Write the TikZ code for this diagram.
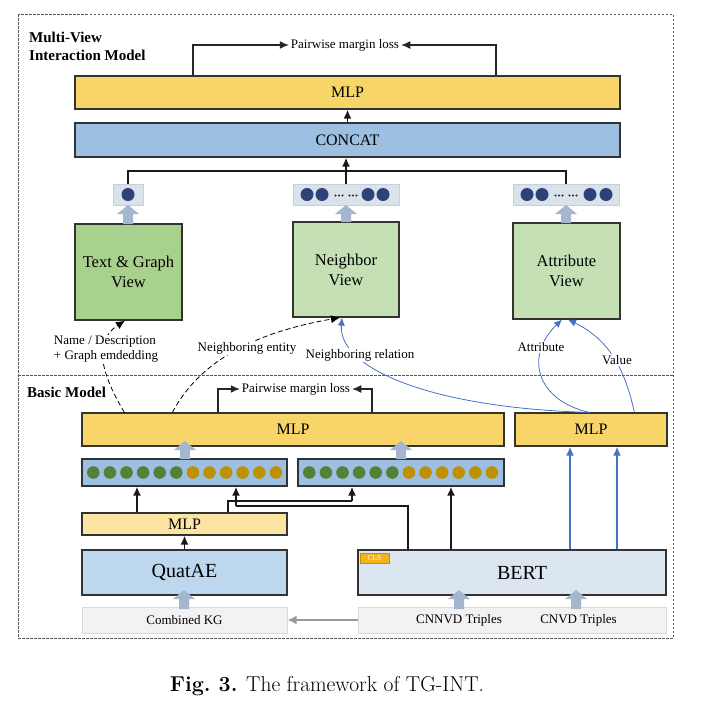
\documentclass[tikz,border=0pt]{standalone}
\usepackage{fontspec}
\newfontfamily\tnr{Liberation Serif}
\usetikzlibrary{arrows.meta,calc}
\definecolor{mlpY}{HTML}{F8D568}
\definecolor{mlpLY}{HTML}{FCE5A2}
\definecolor{ccB}{HTML}{9DC0E2}
\definecolor{qaB}{HTML}{BDD7EE}
\definecolor{brtB}{HTML}{DCE6F0}
\definecolor{vecG}{HTML}{DAE3EC}
\definecolor{grnD}{HTML}{A9D18E}
\definecolor{grnL}{HTML}{C5E0B4}
\definecolor{inG}{HTML}{F2F2F2}
\definecolor{inGb}{HTML}{D9D9D9}
\definecolor{barrowc}{HTML}{A5B6CF}
\definecolor{navy}{HTML}{2F4277}
\definecolor{dotG}{HTML}{538135}
\definecolor{dotO}{HTML}{BF9000}
\definecolor{blu}{HTML}{4472C4}
\definecolor{clsO}{HTML}{F2B31C}
\newcommand{\blockarr}[3]{%
\fill[barrowc] ({#1-5},#3) -- ({#1-5},{#2+9}) -- ({#1-11},{#2+9}) -- (#1,#2) -- ({#1+11},{#2+9}) -- ({#1+5},{#2+9}) -- ({#1+5},#3) -- cycle;}
\begin{document}
\begin{tikzpicture}[x=1pt,y=-1pt,
  box/.style={draw=black!80, line width=1.2pt, inner sep=0pt},
  lbox/.style={draw=inGb, line width=1pt, fill=inG, inner sep=0pt},
  vbox/.style={draw=vecG!80!gray, line width=0.6pt, fill=vecG, inner sep=0pt},
  fmid/.style={font=\tnr\fontsize{16}{18}\selectfont},
  fbig/.style={font=\tnr\fontsize{20}{22}\selectfont},
  flab/.style={font=\tnr\fontsize{13}{15}\selectfont},
  lab/.style={flab, fill=white, inner sep=1pt, align=center},
  arr/.style={-{Latex[length=9pt,width=8pt]}},
  thinl/.style={line width=1.1pt, black!85},
  thickl/.style={line width=1.9pt, black!90},
  dashline/.style={line width=0.8pt, dash pattern=on 5pt off 3pt},
  bluec/.style={line width=0.8pt, blu, -{Latex[length=8pt,width=7pt]}},
  bluearr/.style={line width=1.9pt, blu, -{Latex[length=9pt,width=8pt]}},
  grayarr/.style={line width=1.9pt, black!40, -{Latex[length=9pt,width=9pt]}}
]
\useasboundingbox (0,0) rectangle (727,705);
% frames
\draw[black!65, line width=0.8pt, dash pattern=on 2.5pt off 1.5pt] (18,14) rectangle (673,638);
\draw[black!65, line width=0.8pt, dash pattern=on 2.5pt off 1.5pt] (18,375) -- (673,375);
\node[anchor=west, inner sep=0pt, align=left, font=\tnr\bfseries\fontsize{15}{18}\selectfont] (hdr1) at (29,46) {Multi-View\\Interaction Model};
\node[anchor=west, inner sep=0pt, font=\tnr\bfseries\fontsize{15}{18}\selectfont] (hdr2) at (27,392) {Basic Model};

% boxes: multi-view
\node[box, fill=mlpY, minimum width=545pt, minimum height=33pt, fmid] (mlpT) at (347.5,92.5) {MLP};
\node[box, fill=ccB, minimum width=545pt, minimum height=34pt, fmid] (cc) at (347.5,140) {CONCAT};
\node[vbox, minimum width=30pt, minimum height=21pt] (v1) at (128,194.5) {};
\node[vbox, minimum width=106pt, minimum height=21pt] (v2) at (346,194.5) {};
\node[vbox, minimum width=106pt, minimum height=21pt] (v3) at (566,194.5) {};
\node[box, fill=grnD, minimum width=107pt, minimum height=96pt, align=center, font=\tnr\fontsize{16.5}{20}\selectfont] (tg) at (128.5,272) {Text \& Graph\\View};
\node[box, fill=grnL, minimum width=106pt, minimum height=95pt, align=center, font=\tnr\fontsize{16.5}{20}\selectfont] (nb) at (346,269.5) {Neighbor\\View};
\node[box, fill=grnL, minimum width=107pt, minimum height=96pt, align=center, font=\tnr\fontsize{16.5}{20}\selectfont] (at) at (566.5,271) {Attribute\\View};

% boxes: basic
\node[box, fill=mlpY, minimum width=422pt, minimum height=33pt, fmid] (mlpB) at (293,429.5) {MLP};
\node[box, fill=mlpY, minimum width=152pt, minimum height=33pt, fmid] (mlpR) at (591,429.5) {MLP};
\node[box, fill=ccB, minimum width=205pt, minimum height=27pt] (vec1) at (184.5,472.5) {};
\node[box, fill=ccB, minimum width=206pt, minimum height=27pt] (vec2) at (401,472.5) {};
\node[box, fill=mlpLY, minimum width=205pt, minimum height=22pt, fmid] (smlp) at (184.5,524) {MLP};
\node[box, fill=qaB, minimum width=205pt, minimum height=45pt, fbig] (qa) at (184.5,572.5) {QuatAE};
\node[box, fill=brtB, minimum width=308pt, minimum height=45pt, fbig] (bert) at (512,572.5) {};
\node[fbig, inner sep=0pt] (berttxt) at (522,572.5) {BERT};
\node[draw=clsO!80!black, line width=0.6pt, fill=clsO, minimum width=29pt, minimum height=10pt, inner sep=0pt, text=white, font=\tnr\fontsize{7.5}{8}\selectfont] (cls) at (374.5,558) {CLS};
\node[lbox, minimum width=205pt, minimum height=26pt, flab] (ckg) at (184.5,620) {Combined KG};
\node[lbox, minimum width=308pt, minimum height=26pt] (tri) at (512,620) {};
\node[flab, inner sep=0pt] (t1) at (459,620) {CNNVD Triples};
\node[flab, inner sep=0pt] (t2) at (578.5,620) {CNVD Triples};

% dots in top vectors
\fill[navy] (v1.center) circle[radius=6.5pt];
\foreach \xx in {307,322,368,383} \fill[navy] (\xx,194.5) circle[radius=6.5pt];
\foreach \xx in {527,542,590,606} \fill[navy] (\xx,194.5) circle[radius=6.5pt];
\foreach \xx in {335.5,339,342.5,349.5,353,356.5, 555.5,559,562.5,569.5,573,576.5} \fill[black!85] (\xx,195.5) circle[radius=1.1pt];
% dots in basic vectors
\foreach \i in {0,...,11}{
  \ifnum\i<6 \def\dc{dotG}\else\def\dc{dotO}\fi
  \fill[\dc] ({93.3+\i*16.6},472.5) circle[radius=6.3pt];
  \fill[\dc] ({309.3+\i*16.6},472.5) circle[radius=6.3pt];
}

% curves from basic model to views
\draw[dashline,arr] ($(mlpB.north west)+(43,0)$) .. controls (102,375) and (92,342) .. ([xshift=-3.5pt]tg.south);
\draw[dashline,arr] ($(mlpB.north west)+(91,0)$) .. controls (195,370) and (240,335) .. ([xshift=-6pt]nb.south);
\draw[bluec] ($(mlpR.north west)+(75,0)$) .. controls (430,408) and (338,368) .. ([xshift=-4pt]nb.south);
\draw[bluec] ($(mlpR.north west)+(75,0)$) .. controls (535,400) and (525,355) .. ([xshift=-4.5pt]at.south);
\draw[bluec] ($(mlpR.north west)+(120,0)$) .. controls (625,370) and (610,340) .. ([xshift=1.5pt]at.south);
\node[lab, align=left] (l1) at (106,349.5) {Name / Description\\+ Graph emdedding};
\node[lab] (l2) at (247,348) {Neighboring entity};
\node[lab] (l3) at (360,355) {Neighboring relation};
\node[lab] (l4) at (541,347) {Attribute};
\node[lab] (l5) at (617,360) {Value};

% losses
\node[flab, inner sep=2pt] (ptop) at (345,45) {Pairwise margin loss};
\coordinate (tl) at (193,45); \coordinate (tr) at (496,45);
\draw[thinl,arr] (mlpT.north -| tl) -- (tl) -- (ptop.west);
\draw[thinl,arr] (mlpT.north -| tr) -- (tr) -- (ptop.east);
\node[flab, inner sep=2pt] (pbas) at (296,389) {Pairwise margin loss};
\coordinate (bl) at (218,389); \coordinate (br) at (372,389);
\draw[thinl,arr] (mlpB.north -| bl) -- (bl) -- (pbas.west);
\draw[thinl,arr] (mlpB.north -| br) -- (br) -- (pbas.east);

% top connectors
\coordinate (hl) at (346,171);
\draw[thickl] (v1.north) |- (v3.north |- hl) -- (v3.north);
\draw[thickl,arr] (v2.north) -- (cc.south -| v2.north);
\draw[thickl,arr] (cc.north) -- (mlpT.south);

% basic connectors
\draw[thickl,arr] (qa.north) -- (smlp.south);
\coordinate (s1) at (137,500);
\draw[thickl,arr] (smlp.north -| s1) -- (vec1.south -| s1);
\coordinate (j1) at (228,501); \coordinate (j2) at (352,501);
\draw[thickl] (smlp.north -| j1) -- (j1) -- (j2);
\draw[thickl,arr] (j2) -- (vec2.south -| j2);
\coordinate (k1) at (408,506); \coordinate (k2) at (236,506);
\draw[thickl] (bert.north -| k1) -- (k1) -- (k2);
\draw[thickl,arr] (k2) -- (vec1.south -| k2);
\coordinate (b1) at (451,500);
\draw[thickl,arr] (bert.north -| b1) -- (vec2.south -| b1);
\coordinate (u1) at (570,500); \coordinate (u2) at (617,500);
\draw[bluearr] (bert.north -| u1) -- (mlpR.south -| u1);
\draw[bluearr] (bert.north -| u2) -- (mlpR.south -| u2);
\draw[grayarr] (tri.west) -- (ckg.east);

% block arrows
\blockarr{128}{205}{224}
\blockarr{346}{205}{222}
\blockarr{566}{205}{223}
\blockarr{185}{441}{459}
\blockarr{401}{441}{459}
\blockarr{184}{590}{609}
\blockarr{459}{590}{609}
\blockarr{576}{590}{609}

% caption
\node[font=\fontsize{21.5}{24}\selectfont, inner sep=0pt] (cap) at (327,686) {\textbf{Fig.\ 3.} The framework of TG-INT.};
\end{tikzpicture}
\end{document}
